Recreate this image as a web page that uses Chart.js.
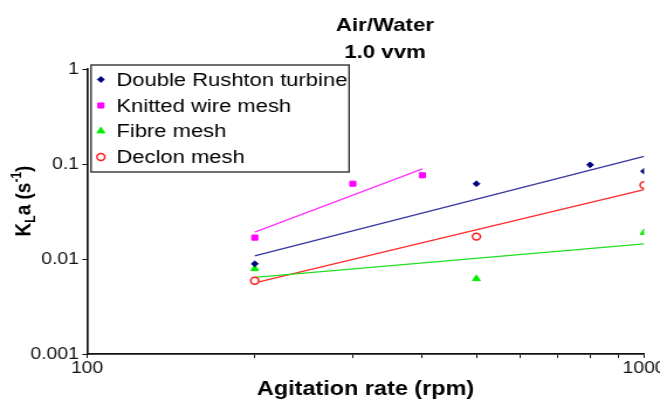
<!DOCTYPE html>
<html>
<head>
<meta charset="utf-8">
<script src="https://cdn.jsdelivr.net/npm/chart.js@4.4.0/dist/chart.umd.min.js"></script>
<style>
  html, body { margin: 0; padding: 0; background: #fff; overflow: hidden; }
  canvas { display: block; }
</style>
</head>
<body>
<!-- drawn on a narrower canvas and widened by CSS (Helvetica-style wide lettering) -->
<canvas id="c" width="564" height="399" style="width:660px;height:399px"></canvas>
<script>
// Measured KLa values (s^-1) against agitation rate (rpm), air/water at 1.0 vvm
const rpmDRT = [200, 500, 800, 1000];
const klaDRT = [0.0089, 0.062, 0.098, 0.084];

const rpmKnitted = [200, 300, 400];
const klaKnitted = [0.0168, 0.062, 0.076];

const rpmFibre = [200, 500, 1000];
const klaFibre = [0.0079, 0.0062, 0.019];

const rpmDeclon = [200, 500, 1000];
const klaDeclon = [0.0059, 0.0172, 0.060];

// Power-law trend lines (end points)
const trendRpmDRT = [200, 1000];
const trendKlaDRT = [0.0108, 0.120];
const trendRpmKnitted = [200, 400];
const trendKlaKnitted = [0.0192, 0.089];
const trendRpmFibre = [200, 1000];
const trendKlaFibre = [0.0064, 0.0144];
const trendRpmDeclon = [200, 1000];
const trendKlaDeclon = [0.0056, 0.0536];

const seriesNames = ['Double Rushton turbine', 'Knitted wire mesh', 'Fibre mesh', 'Declon mesh'];

// Axis ticks
const xTickValues = [100, 200, 300, 400, 500, 600, 700, 800, 900, 1000];
const xTickLabels = ['100', '', '', '', '', '', '', '', '', '1000'];
const yTickValues = [0.001, 0.01, 0.1, 1];
const yTickLabels = ['0.001', '0.01', '0.1', '1'];

const FONT = '"Liberation Sans", Arial, Helvetica, sans-serif';

const pts = (xs, ys) => xs.map((x, i) => ({ x: x, y: ys[i] }));

const markers = [
  { style: 'rectRot', radius: 2.9, fill: '#000080', stroke: '#000080', bw: 1 },
  { style: 'rect', radius: 3.6, fill: '#ff00ff', stroke: '#ff00ff', bw: 1 },
  { style: 'triangle', radius: 3.8, fill: '#00ee00', stroke: '#00ee00', bw: 1 },
  { style: 'circle', radius: 3.4, fill: '#ffffff', stroke: '#ff1a1a', bw: 1.5 }
];
const lineColors = ['#3535a0', '#ff33ff', '#22dd22', '#ff2a2a'];

function pointSet(i, xs, ys) {
  const m = markers[i];
  return {
    label: seriesNames[i],
    data: pts(xs, ys),
    showLine: false,
    pointStyle: m.style,
    pointRadius: m.radius,
    pointBackgroundColor: m.fill,
    pointBorderColor: m.stroke,
    pointBorderWidth: m.bw,
    order: 0
  };
}
function trendSet(i, xs, ys) {
  return {
    label: seriesNames[i] + ' trend',
    data: pts(xs, ys),
    showLine: true,
    borderColor: lineColors[i],
    borderWidth: 1.3,
    pointRadius: 0,
    fill: false,
    order: 1
  };
}

// Titles, axis titles and the boxed legend
const annotations = {
  id: 'annotations',
  afterDraw(chart) {
    const ctx = chart.ctx;
    const area = chart.chartArea;
    ctx.save();
    ctx.fillStyle = '#000';
    ctx.textAlign = 'center';
    ctx.textBaseline = 'middle';
    ctx.font = 'bold 19px ' + FONT;
    ctx.fillText('Air/Water', 329, 26);
    ctx.fillText('1.0 vvm', 329, 53);

    ctx.font = 'bold 20px ' + FONT;
    ctx.fillText('Agitation rate (rpm)', (area.left + area.right) / 2, 389);

    // y title with subscript L and superscript -1
    ctx.translate(19, 201);
    ctx.rotate(-Math.PI / 2);
    const parts = [
      { t: 'K', size: 19, dy: 0 },
      { t: 'L', size: 12, dy: 4 },
      { t: 'a (s', size: 19, dy: 0 },
      { t: '-1', size: 12, dy: -8 },
      { t: ')', size: 19, dy: 0 }
    ];
    let total = 0;
    parts.forEach(p => { ctx.font = 'bold ' + p.size + 'px ' + FONT; p.w = ctx.measureText(p.t).width; total += p.w; });
    let x = -total / 2;
    ctx.textAlign = 'left';
    ctx.textBaseline = 'alphabetic';
    parts.forEach(p => {
      ctx.font = 'bold ' + p.size + 'px ' + FONT;
      ctx.fillText(p.t, x, 7 + p.dy);
      x += p.w;
    });
    ctx.restore();

    // legend box
    ctx.save();
    const bx = 77.8, by = 65, bw = 220.5, bh = 107;
    ctx.fillStyle = '#fff';
    ctx.fillRect(bx, by, bw, bh);
    ctx.strokeStyle = '#222';
    ctx.lineWidth = 1.3;
    ctx.strokeRect(bx, by, bw, bh);
    const rows = [79.5, 105.5, 131, 157];
    ctx.font = '18.8px ' + FONT;
    ctx.textAlign = 'left';
    ctx.textBaseline = 'middle';
    seriesNames.forEach((name, i) => {
      const m = markers[i];
      ctx.fillStyle = m.fill;
      ctx.strokeStyle = m.stroke;
      ctx.lineWidth = m.bw;
      Chart.helpers.drawPoint(ctx, { pointStyle: m.style, radius: m.radius, borderWidth: m.bw, rotation: 0 }, 86.2, rows[i]);
      ctx.fillStyle = '#000';
      ctx.fillText(name, 99.5, rows[i] + 1);
    });
    ctx.restore();
  }
};

new Chart(document.getElementById('c'), {
  type: 'scatter',
  data: {
    datasets: [
      pointSet(0, rpmDRT, klaDRT),
      pointSet(1, rpmKnitted, klaKnitted),
      pointSet(2, rpmFibre, klaFibre),
      pointSet(3, rpmDeclon, klaDeclon),
      trendSet(0, trendRpmDRT, trendKlaDRT),
      trendSet(1, trendRpmKnitted, trendKlaKnitted),
      trendSet(2, trendRpmFibre, trendKlaFibre),
      trendSet(3, trendRpmDeclon, trendKlaDeclon)
    ]
  },
  options: {
    responsive: false,
    devicePixelRatio: 1,
    animation: false,
    layout: { padding: { top: 69, right: 13.6, bottom: 0, left: 0 } },
    plugins: {
      legend: { display: false },
      tooltip: { enabled: false },
      title: { display: false }
    },
    scales: {
      x: {
        type: 'logarithmic',
        min: 100,
        max: 1000,
        afterBuildTicks: s => { s.ticks = xTickValues.map(v => ({ value: v })); },
        afterFit: s => { s.height = 45; s.paddingLeft = 0; s.paddingRight = 0; },
        ticks: {
          autoSkip: false,
          maxRotation: 0,
          padding: 1,
          color: '#111',
          font: { family: FONT, size: 16.5 },
          callback: (v, i) => xTickLabels[xTickValues.indexOf(v)] ?? ''
        },
        grid: { drawOnChartArea: false, tickLength: 4, color: '#111', lineWidth: 1 },
        border: { color: '#111', width: 1.7 }
      },
      y: {
        type: 'logarithmic',
        min: 0.001,
        max: 1,
        afterBuildTicks: s => { s.ticks = yTickValues.map(v => ({ value: v })); },
        afterFit: s => { s.width = 74.4; s.paddingTop = 0; s.paddingBottom = 0; },
        ticks: {
          autoSkip: false,
          padding: 3,
          color: '#111',
          font: { family: FONT, size: 16.5 },
          callback: (v) => yTickLabels[yTickValues.indexOf(v)] ?? ''
        },
        grid: { drawOnChartArea: false, tickLength: 4, color: '#111', lineWidth: 1 },
        border: { color: '#111', width: 1.7 }
      }
    }
  },
  plugins: [annotations]
});
</script>
</body>
</html>
